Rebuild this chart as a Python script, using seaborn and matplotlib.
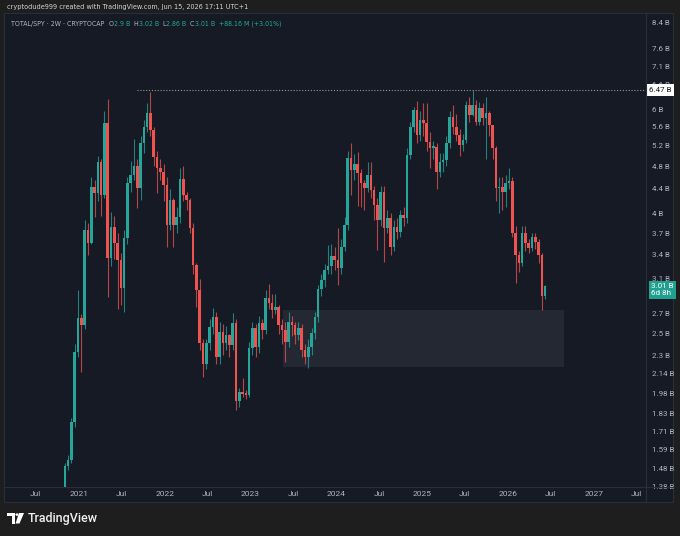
import numpy as np
import pandas as pd
import matplotlib
matplotlib.use("Agg")
import matplotlib.pyplot as plt
import matplotlib.dates as mdates
from matplotlib.transforms import blended_transform_factory
from matplotlib.patches import Rectangle, Polygon, Circle
import matplotlib.font_manager as fm
import seaborn as sns

# ---------------- data (2W candles, values in billions) ----------------
last_candle_date = "2026-06-08"
first_open = 1.37

closes = [
    1.49, 1.53, 1.77, 2.33, 2.66, 2.59, 3.75, 3.56, 4.43, 4.33,
    4.88, 4.30, 5.68, 3.36, 3.79, 3.56, 3.33, 2.99, 3.63, 4.50,
    4.65, 4.81, 4.41, 5.26, 5.59, 5.91, 5.53, 4.98, 4.78, 4.70,
    4.46, 3.82, 4.21, 3.82, 3.94, 4.57, 4.30, 4.21, 3.78, 3.27,
    2.96, 2.41, 2.22, 2.41, 2.57, 2.67, 2.28, 2.52, 2.41, 2.49,
    2.39, 2.61, 1.92, 1.99, 1.98, 1.97, 2.36, 2.56, 2.37, 2.61,
    2.54, 2.87, 2.82, 2.74, 2.77, 2.59, 2.54, 2.42, 2.62, 2.59,
    2.49, 2.56, 2.35, 2.28, 2.37, 2.51, 2.67, 2.98, 3.08, 3.20,
    3.25, 3.38, 3.33, 3.23, 3.51, 3.82, 4.96, 4.74, 4.85, 4.68,
    4.50, 4.41, 4.65, 4.38, 4.13, 3.90, 4.35, 3.78, 3.93, 3.51,
    3.79, 3.72, 3.97, 3.93, 5.02, 5.59, 5.98, 5.43, 5.75, 5.68,
    5.28, 5.16, 5.18, 4.70, 4.88, 4.92, 5.26, 5.82, 5.59, 5.43,
    5.22, 5.32, 6.10, 5.87, 6.10, 5.71, 6.03, 5.80, 5.91, 5.64,
    5.16, 4.41, 4.43, 4.35, 4.50, 4.53, 3.71, 3.40, 3.29, 3.71,
    3.56, 3.49, 3.64, 3.57, 3.40, 2.90, 3.01,
]
highs = [
    1.51, 1.56, 1.80, 2.40, 2.97, 2.70, 3.90, 3.85, 4.60, 4.55,
    5.00, 4.95, 5.95, 6.25, 4.02, 3.95, 3.70, 3.42, 3.75, 4.60,
    4.90, 5.35, 4.95, 5.40, 5.75, 6.15, 6.43, 5.60, 5.10, 4.95,
    4.85, 4.60, 4.40, 4.25, 4.10, 4.77, 4.80, 4.35, 4.25, 3.85,
    3.30, 3.10, 2.45, 2.45, 2.65, 2.76, 2.72, 2.62, 2.60, 2.58,
    2.50, 2.71, 2.65, 2.02, 2.10, 2.01, 2.42, 2.62, 2.60, 2.68,
    2.65, 2.96, 3.03, 2.92, 2.92, 2.80, 2.65, 2.62, 2.72, 2.68,
    2.62, 2.62, 2.60, 2.40, 2.45, 2.56, 2.72, 3.02, 3.15, 3.28,
    3.53, 3.55, 3.50, 3.78, 3.62, 3.94, 5.10, 5.26, 5.03, 5.08,
    4.75, 4.55, 4.88, 4.88, 4.45, 4.25, 4.45, 4.45, 4.05, 4.00,
    3.90, 3.92, 4.05, 4.10, 5.15, 5.70, 6.05, 6.19, 5.95, 6.15,
    6.15, 5.50, 5.30, 5.25, 5.05, 5.05, 5.40, 5.95, 6.10, 5.90,
    5.55, 5.45, 6.20, 6.30, 6.47, 6.22, 6.18, 6.15, 6.30, 5.95,
    5.65, 5.20, 4.60, 4.60, 4.65, 4.78, 4.60, 3.80, 3.45, 3.80,
    3.80, 3.62, 3.70, 3.70, 3.62, 3.42, 3.02,
]
lows = [
    1.34, 1.47, 1.51, 1.74, 2.28, 2.15, 2.55, 3.40, 3.55, 3.94,
    4.20, 3.95, 4.25, 2.88, 3.25, 3.35, 2.75, 2.80, 2.72, 3.55,
    4.35, 4.55, 4.08, 4.21, 5.05, 5.50, 5.40, 4.80, 4.33, 4.55,
    4.20, 3.50, 3.75, 3.50, 3.70, 3.85, 4.20, 4.05, 3.70, 3.15,
    2.78, 2.35, 2.11, 2.18, 2.35, 2.50, 2.22, 2.22, 2.30, 2.35,
    2.28, 2.35, 1.86, 1.88, 1.95, 1.94, 1.95, 2.30, 2.28, 2.32,
    2.45, 2.50, 2.75, 2.66, 2.70, 2.50, 2.40, 2.24, 2.37, 2.48,
    2.40, 2.44, 2.28, 2.22, 2.19, 2.30, 2.45, 2.62, 2.90, 3.00,
    3.15, 3.15, 3.20, 3.02, 3.15, 3.45, 3.75, 4.30, 4.55, 4.11,
    4.10, 4.05, 4.35, 4.25, 3.90, 3.47, 3.80, 3.31, 3.70, 3.40,
    3.45, 3.62, 3.65, 3.80, 3.85, 4.95, 5.50, 5.25, 5.30, 5.40,
    5.10, 4.78, 4.95, 4.40, 4.60, 4.70, 4.80, 5.15, 5.45, 5.30,
    5.00, 5.10, 5.25, 5.70, 5.85, 5.65, 5.65, 5.65, 4.95, 5.40,
    4.95, 4.20, 4.00, 4.05, 4.10, 4.40, 3.65, 3.05, 3.18, 3.25,
    3.45, 3.42, 3.45, 3.48, 3.30, 2.74, 2.86,
]

price_ticks = [1.38, 1.48, 1.59, 1.71, 1.83, 1.98, 2.14, 2.3, 2.5, 2.7,
               3.1, 3.4, 3.7, 4, 4.4, 4.8, 5.2, 5.6, 6, 6.6, 7.1, 7.6, 8.4]
time_ticks = ["2020-07-01", "2021-01-01", "2021-07-01", "2022-01-01", "2022-07-01",
              "2023-01-01", "2023-07-01", "2024-01-01", "2024-07-01", "2025-01-01",
              "2025-07-01", "2026-01-01", "2026-07-01", "2027-01-01", "2027-07-01"]
time_labels = ["Jul", "2021", "Jul", "2022", "Jul", "2023", "Jul", "2024", "Jul",
               "2025", "Jul", "2026", "Jul", "2027", "Jul"]

level_value = 6.47
level_start = "2021-09-03"
zone_start, zone_end = "2023-05-18", "2026-08-26"
zone_low, zone_high = 2.196, 2.745

header = "cryptodude999 created with TradingView.com, Jun 15, 2026 17:11 UTC+1"
legend_texts = ["TOTAL/SPY · 2W · CRYPTOCAP", "O", "2.9 B", "H", "3.02 B", "L", "2.86 B",
                "C", "3.01 B", "+88.16 M (+3.01%)"]
legend_kinds = ["g", "g", "t", "g", "t", "g", "t", "g", "t", "t"]

# ---------------- style ----------------
sns.set_theme(style="dark")
avail = {f.name for f in fm.fontManager.ttflist}
fam = [f for f in ["Roboto", "DejaVu Sans"] if f in avail]
plt.rcParams['font.family'] = fam + ["DejaVu Sans"]

# a narrow face for the header/legend, if one is installed
narrow_path = None
for key in ["LiberationSansNarrow-Regular", "DejaVuSansCondensed.ttf", "RobotoCondensed-Regular",
            "Roboto_Condensed", "OpenSans_Condensed", "Condensed", "Narrow"]:
    hits = [f.fname for f in fm.fontManager.ttflist if key.lower() in f.fname.lower()
            and "bold" not in f.fname.lower() and "italic" not in f.fname.lower()
            and "oblique" not in f.fname.lower()]
    if hits:
        narrow_path = sorted(hits)[0]
        break
FP = fm.FontProperties(fname=narrow_path) if narrow_path else fm.FontProperties(family=fam[0])

OUTER = "#1e1e1e"
PANEL = "#161a25"
BORDER = "#2a2e39"
UP = "#26a69a"
DOWN = "#ef5350"
TXT = "#b2b5be"

W, H = 680, 536
def fx(px): return px / W
def fy(py): return 1 - py / H

fig = plt.figure(figsize=(6.8, 5.36), dpi=100, facecolor=OUTER)
fig.patches.append(Rectangle((fx(4), fy(502)), fx(673) - fx(4), fy(13) - fy(502),
                             transform=fig.transFigure, facecolor=PANEL,
                             edgecolor=BORDER, lw=0.8, zorder=-2))

ax = fig.add_axes([fx(5), fy(487), fx(645) - fx(5), fy(14) - fy(487)])
ax.set_facecolor(PANEL)
for s in ax.spines.values():
    s.set_visible(False)

dates = pd.date_range(end=last_candle_date, periods=len(closes), freq="14D")
xs = mdates.date2num(dates)
c = np.array(closes)
o = np.array([first_open] + closes[:-1])
hi = np.array(highs)
lo = np.array(lows)
up = c >= o
cols = np.where(up, UP, DOWN)

df = pd.DataFrame({"x": xs, "open": o, "close": c, "high": hi, "low": lo, "up": up})

ax.vlines(df["x"], df["low"], df["high"], colors=cols, lw=0.8, alpha=0.75, zorder=3)
bottoms = np.minimum(o, c)
heights = np.maximum(np.abs(c - o), bottoms * 0.006)
ax.bar(df["x"], heights, bottom=bottoms, width=11, color=cols, lw=0, zorder=4)

ax.set_yscale("log")
ax.set_ylim(1.375, 8.70)
x0 = mdates.date2num(pd.Timestamp("2020-02-21"))
x1 = mdates.date2num(pd.Timestamp("2027-08-07"))
ax.set_xlim(x0, x1)

# zone
zs, ze = mdates.date2num(pd.Timestamp(zone_start)), mdates.date2num(pd.Timestamp(zone_end))
ax.add_patch(Rectangle((zs, zone_low), ze - zs, zone_high - zone_low,
                       facecolor="#2a2e39", alpha=0.7, lw=0, zorder=1))
# level line
sns.lineplot(x=[mdates.date2num(pd.Timestamp(level_start)), x1], y=[level_value, level_value],
             ax=ax, color="#9598a1", lw=0.8, linestyle=(0, (1, 1.6)), zorder=2)

ax.grid(False)
ax.yaxis.tick_right()
ax.yaxis.set_minor_locator(matplotlib.ticker.NullLocator())
ax.set_yticks(price_ticks)
ax.set_yticklabels([("%g B" % v) for v in price_ticks])
ax.tick_params(axis="y", length=0, pad=5, labelsize=5.7, labelcolor=TXT)
ax.set_xticks(mdates.date2num(pd.to_datetime(time_ticks)))
ax.set_xticklabels(time_labels)
ax.tick_params(axis="x", length=0, pad=3, labelsize=6.0, labelcolor=TXT)
ax.set_xlabel(""); ax.set_ylabel("")

# separators
fig.add_artist(plt.Line2D([fx(4), fx(673)], [fy(487), fy(487)], color=BORDER, lw=0.8))
fig.add_artist(plt.Line2D([fx(645.5), fx(645.5)], [fy(13), fy(502)], color=BORDER, lw=0.8))

# price labels
tr = blended_transform_factory(ax.transAxes, ax.transData)
ax.text(1.0 + 4 / 640, level_value, "6.47 B", transform=tr, ha="left", va="center",
        fontsize=5.8, color="#131722", clip_on=False, zorder=10,
        bbox=dict(boxstyle="square,pad=0.35", fc="white", ec="none"))
ax.text(1.0 + 6 / 640, 2.965, "3.01 B\n6d 8h", transform=tr, ha="left", va="center",
        fontsize=5.8, color="white", clip_on=False, zorder=10, linespacing=1.2,
        bbox=dict(boxstyle="square,pad=0.3", fc="#22a08f", ec="none"))

# header & legend (sized to roughly the reference's text widths)
fig.canvas.draw()
r = fig.canvas.get_renderer()

def width_at(s, size):
    t = fig.text(0, 0, s, fontproperties=FP, fontsize=size)
    w = t.get_window_extent(renderer=r).width
    t.remove()
    return w

base = 10.0
hw = width_at(header, base)
hsize = base * 240.0 / hw
fig.text(fx(7), fy(7.5), header, fontproperties=FP, fontsize=hsize, color="#d1d4dc",
         va="center", ha="left")

widths = [width_at(s, base) for s in legend_texts]
gaps = [0.45, 0.08, 0.45, 0.08, 0.45, 0.08, 0.45, 0.08, 0.55, 0.0]  # in units of font size
tot = sum(widths) + sum(g * base * 100 / 72 for g in gaps[:-1])
scale = 272.0 / tot
lsize = base * scale
xp = 11.0
for s, k, w, g in zip(legend_texts, legend_kinds, widths, gaps):
    fig.text(fx(xp), fy(24), s, fontproperties=FP, fontsize=lsize, va="center", ha="left",
             color=(TXT if k == "g" else UP))
    xp += (w + g * base * 100 / 72) * scale

# TradingView watermark
fig.patches.append(Polygon([(fx(7), fy(513)), (fx(14.5), fy(513)), (fx(14.5), fy(523.5)),
                            (fx(11.5), fy(523.5)), (fx(11.5), fy(516)), (fx(7), fy(516))],
                           closed=True, transform=fig.transFigure, fc="white", ec="none"))
fig.patches.append(Circle((fx(17), fy(514.6)), 1.6 / W, transform=fig.transFigure,
                          fc="white", ec="none"))
fig.patches.append(Polygon([(fx(19), fy(513)), (fx(24), fy(513)), (fx(19.5), fy(523.5)),
                            (fx(15.5), fy(523.5))],
                           closed=True, transform=fig.transFigure, fc="white", ec="none"))
fig.text(fx(28), fy(518.5), "TradingView", fontsize=9, color="#f0f0f0",
         va="center", ha="left", fontweight="medium")

fig.savefig("out.png", dpi=100, facecolor=OUTER)
